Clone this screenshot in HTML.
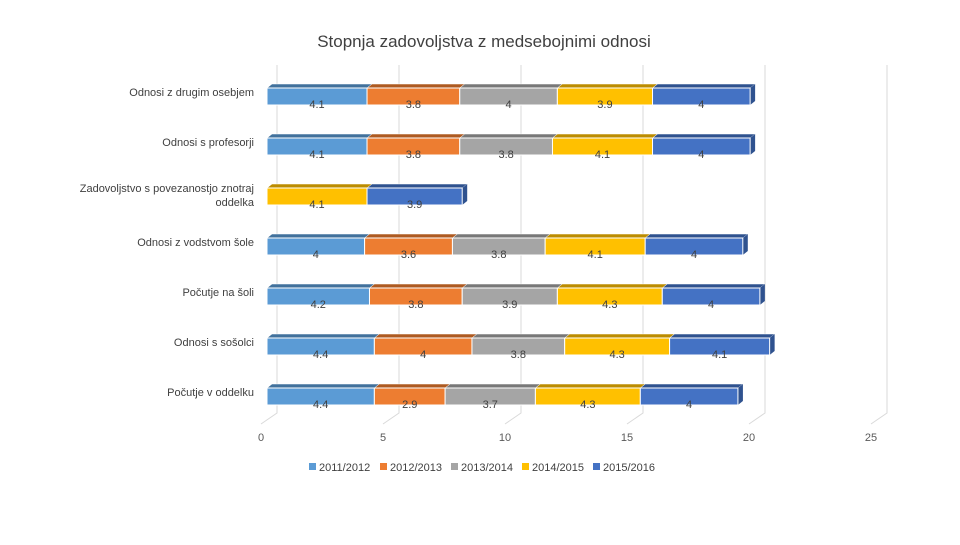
<!DOCTYPE html>
<html><head><meta charset="utf-8"><style>
body{margin:0;background:#fff;font-family:"Liberation Sans",sans-serif}
svg text{font-family:"Liberation Sans",sans-serif}
</style></head><body>
<svg id="c" width="960" height="540">
<text x="484" y="47" text-anchor="middle" font-size="17" fill="#404040">Stopnja zadovoljstva z medsebojnimi odnosi</text>
<g id="grid"></g><g id="bars"></g><g id="cats"></g><g id="ticks"></g><g id="legend"></g>
</svg>
<script>
const categories=["Odnosi z drugim osebjem","Odnosi s profesorji","Zadovoljstvo s povezanostjo znotraj|oddelka","Odnosi z vodstvom šole","Počutje na šoli","Odnosi s sošolci","Počutje v oddelku"];
const seriesNames=["2011/2012","2012/2013","2013/2014","2014/2015","2015/2016"];
const s2011=[4.1,4.1,null,4,4.2,4.4,4.4];
const s2012=[3.8,3.8,null,3.6,3.8,4,2.9];
const s2013=[4,3.8,null,3.8,3.9,3.8,3.7];
const s2014=[3.9,4.1,4.1,4.1,4.3,4.3,4.3];
const s2015=[4,4,3.9,4,4,4.1,4];
const tickVals=[0,5,10,15,20,25];
const series=[s2011,s2012,s2013,s2014,s2015];
const colors=["#5b9bd5","#ed7d31","#a5a5a5","#ffc000","#4472c4"];
const topC=["#41719c","#ae5a21","#787878","#bc8c00","#2f528f"];
const NS="http://www.w3.org/2000/svg";
function mk(t,a,p){const e=document.createElementNS(NS,t);for(const k in a)e.setAttribute(k,a[k]);p.appendChild(e);return e;}
const U=24.4, X0=267, DX=5, DY=4;
function xf(v){return X0+v*U;}
function yf(i){return 88+i*50;}
const grid=document.getElementById('grid');
tickVals.forEach(v=>{
  const x=xf(v)+10;
  const l=mk('polyline',{points:`${x},65 ${x},413 ${x-16},424`,fill:'none',stroke:'#d9d9d9','stroke-width':1},grid);
  
  const t=mk('text',{x:x-16,y:441,'text-anchor':'middle','font-size':11,fill:'#595959'},document.getElementById('ticks'));
  t.textContent=v;
  
});
const bars=document.getElementById('bars');
categories.forEach((c,i)=>{
  let acc=0;const y=yf(i),h=17;
  series.forEach((s,k)=>{
    const v=s[i];if(v==null)return;
    const x1=xf(acc),x2=xf(acc+v);
    const g=mk('g',{},bars);
    
    mk('polygon',{points:`${x1},${y} ${x1+DX},${y-DY} ${x2+DX},${y-DY} ${x2},${y}`,fill:topC[k],stroke:'#fff','stroke-width':0.5},g);
    mk('polygon',{points:`${x2},${y} ${x2+DX},${y-DY} ${x2+DX},${y+h-DY} ${x2},${y+h}`,fill:topC[k]},g);
    mk('rect',{x:x1,y:y,width:x2-x1,height:h,fill:colors[k],stroke:'#fff','stroke-width':1},g);
    const t=mk('text',{x:(x1+x2)/2,y:y+h+3,'text-anchor':'middle','font-size':11,fill:'#404040'},g);
    t.textContent=v;
    acc+=v;
  });
  const parts=c.split('|');
  const ct=mk('text',{x:254,'text-anchor':'end','font-size':11,fill:'#404040'},document.getElementById('cats'));
  
  parts.forEach((p,j)=>{const ts=mk('tspan',{x:254,y:(parts.length>1?y+4:y+8)+j*14},ct);ts.textContent=p;});
});
const lg=document.getElementById('legend');
const lx=[309,380,451,522,593];
seriesNames.forEach((n,k)=>{
  const g=mk('g',{},lg);
  
  mk('rect',{x:lx[k],y:463,width:7,height:7,fill:colors[k]},g);
  const t=mk('text',{x:lx[k]+10,y:471,'font-size':11,fill:'#404040'},g);t.textContent=n;
});
</script>
</body></html>
